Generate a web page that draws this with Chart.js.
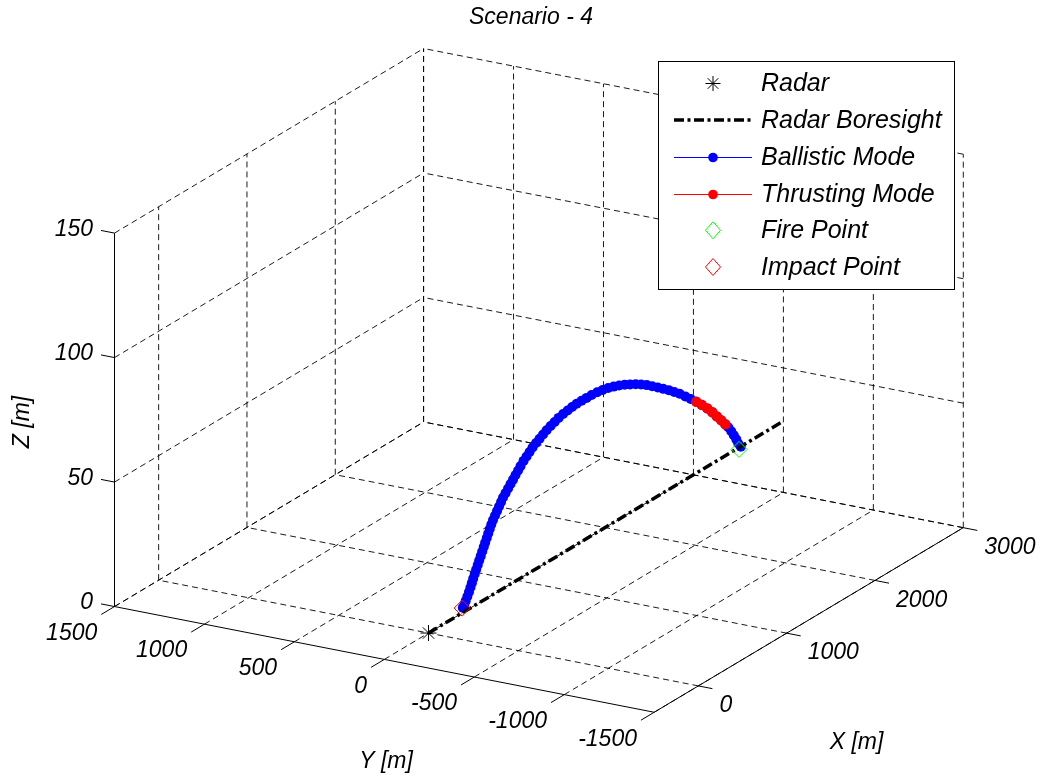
<!DOCTYPE html>
<html><head><meta charset="utf-8">
<script src="https://cdn.jsdelivr.net/npm/chart.js@4.4.1/dist/chart.umd.min.js"></script>
<style>html,body{margin:0;padding:0;background:#fff;}#wrap{width:1046px;height:780px;position:relative;}</style>
</head><body><div id="wrap"><canvas id="c" width="1046" height="780"></canvas></div>
<script>
// ---------- texts ----------
const chartTitle = 'Scenario - 4';
const xAxisLabel = 'X [m]';
const yAxisLabel = 'Y [m]';
const zAxisLabel = 'Z [m]';
const legendLabels = ['Radar', 'Radar Boresight', 'Ballistic Mode', 'Thrusting Mode', 'Fire Point', 'Impact Point'];

// ---------- axes ----------
const xLimits = [-500, 3000];
const yLimits = [-1500, 1500];
const zLimits = [0, 150];
const xTicks = [0, 1000, 2000, 3000];
const yTicks = [-1500, -1000, -500, 0, 500, 1000, 1500];
const zTicks = [0, 50, 100, 150];
const viewAz = 60.2, viewEl = 20;
const boxAspect = [1, 1, 0.639];

// ---------- data (3D, metres) ----------
const radarPos = [0, 0, 0];
const boresightX = [0, 4000];
const boresightY = [0, 0];
const boresightZ = [0, 0];
const firePoint = [3490, -13, 0];
const impactPoint = [450, 34, 0];

const ballisticX = [3509,3481,3459,3432,3404,3371,3338,3294,3245,3196,3141,3080,3020,2959,2899,2838,2778,2718,2657,2597,
  2536,2476,2415,2355,2294,2234,2174,2113,2053,1992,1932,1871,1816,1761,1707,1657,1608,1558,1509,1465,
  1421,1377,1338,1300,1261,1223,1190,1157,1124,1091,1064,1036,1009,981,954,926,899,877,855,833,
  811,789,770,753,736,720,703,687,670,654,637,621,604,588,571,556,541,525,507,488,472,457];
const ballisticY = [-13.3,-12.9,-12.5,-12.1,-11.7,-11.2,-10.7,-10.0,-9.2,-8.5,-7.6,-6.7,-5.7,-4.8,-3.9,-2.9,-2.0,-1.1,-0.1,0.8,
  1.7,2.7,3.6,4.5,5.5,6.4,7.3,8.3,9.2,10.1,11.0,12.0,12.8,13.7,14.5,15.3,16.1,16.8,17.6,18.3,
  18.9,19.6,20.2,20.8,21.4,22.0,22.5,23.0,23.5,24.0,24.4,24.9,25.3,25.7,26.1,26.6,27.0,27.3,27.7,28.0,
  28.3,28.7,29.0,29.2,29.5,29.8,30.0,30.3,30.5,30.8,31.0,31.3,31.5,31.8,32.0,32.3,32.5,32.8,33.0,33.3,33.6,33.8];
const ballisticZ = [0.7,2.6,4.7,6.9,9.1,11.4,13.3,15.8,18.4,21.1,23.8,26.5,29.0,31.4,33.7,36.0,38.0,40.0,41.8,43.6,
  45.4,47.1,48.6,50.0,51.2,52.3,53.3,54.1,54.8,55.3,55.6,55.8,55.8,55.8,55.7,55.5,55.1,54.7,54.2,53.5,
  52.8,52.0,51.1,50.2,49.3,48.3,47.2,46.1,45.0,43.6,42.4,41.2,39.9,38.7,37.5,36.2,35.0,33.7,32.3,31.0,
  29.6,28.3,26.9,25.4,24.0,22.5,21.0,19.6,18.1,16.6,15.2,13.7,12.3,10.8,9.3,7.8,6.4,4.9,3.5,2.0,0.6,0.0];

const thrustX = [3338,3294,3245,3196,3141,3080,3020];
const thrustY = [-10.7,-10.0,-9.2,-8.5,-7.6,-6.7,-5.7];
const thrustZ = [13.3,15.8,18.4,21.1,23.8,26.5,29.0];

// ---------- orthographic 3D view ----------
const AZ = viewAz * Math.PI / 180, EL = viewEl * Math.PI / 180;
function project(X, Y, Z) {
  const bx = ((X - xLimits[0]) / (xLimits[1] - xLimits[0]) - 0.5) * boxAspect[0];
  const by = ((Y - yLimits[0]) / (yLimits[1] - yLimits[0]) - 0.5) * boxAspect[1];
  const bz = ((Z - zLimits[0]) / (zLimits[1] - zLimits[0]) - 0.5) * boxAspect[2];
  return {
    x: Math.cos(AZ) * bx - Math.sin(AZ) * by,
    y: Math.sin(EL) * (Math.sin(AZ) * bx + Math.cos(AZ) * by) + Math.cos(EL) * bz
  };
}
let uMax = 0, vMax = 0;
for (const X of xLimits) for (const Y of yLimits) for (const Z of zLimits) {
  const p = project(X, Y, Z);
  uMax = Math.max(uMax, Math.abs(p.x)); vMax = Math.max(vMax, Math.abs(p.y));
}
const W = 1046, H = 780;
const areaLeft = 114.5, areaRight = 963.3, areaTop = 48.5;
const pxPerUnit = (areaRight - areaLeft) / (2 * uMax);
const areaBottom = areaTop + 2 * vMax * pxPerUnit;

const pts = (xs, ys, zs) => xs.map((x, i) => project(x, ys[i], zs[i]));

const FONT = '"Liberation Sans", Arial, Helvetica, sans-serif';

const axesPlugin = {
  id: 'axes3d',
  beforeDatasetsDraw(chart) {
    const ctx = chart.ctx, sx = chart.scales.x, sy = chart.scales.y;
    const P = (X, Y, Z) => { const p = project(X, Y, Z); return [sx.getPixelForValue(p.x), sy.getPixelForValue(p.y)]; };
    const line = (a, b) => { ctx.beginPath(); ctx.moveTo(a[0], a[1]); ctx.lineTo(b[0], b[1]); ctx.stroke(); };
    const [x0, x1] = xLimits, [y0, y1] = yLimits, [z0, z1] = zLimits;
    ctx.save();
    // grid (dashed) on the three back planes
    ctx.strokeStyle = '#000'; ctx.lineWidth = 0.9; ctx.setLineDash([6, 4]);
    for (const xt of xTicks) { line(P(xt, y0, z0), P(xt, y1, z0)); line(P(xt, y1, z0), P(xt, y1, z1)); }
    for (const yt of yTicks) { line(P(x0, yt, z0), P(x1, yt, z0)); line(P(x1, yt, z0), P(x1, yt, z1)); }
    for (const zt of zTicks) { line(P(x0, y1, zt), P(x1, y1, zt)); line(P(x1, y0, zt), P(x1, y1, zt)); }
    // axis lines (solid)
    ctx.setLineDash([]); ctx.strokeStyle = '#000'; ctx.lineWidth = 1;
    line(P(x0, y1, z0), P(x0, y1, z1));
    line(P(x0, y1, z0), P(x0, y0, z0));
    line(P(x0, y0, z0), P(x1, y0, z0));
    // ticks + labels
    ctx.fillStyle = '#000'; ctx.font = 'italic 23px ' + FONT;
    const zTickLen = 75, xTickLen = 78, yTickLen = 150;
    for (const zt of zTicks) {
      const a = P(x0, y1, zt), b = P(x0, y1 + zTickLen, zt); line(a, b);
      ctx.textAlign = 'right'; ctx.textBaseline = 'middle';
      ctx.fillText(String(zt), b[0] - 8, b[1] - 1);
    }
    for (const xt of xTicks) {
      const a = P(xt, y0, z0), b = P(xt, y0 - xTickLen, z0); line(a, b);
      ctx.textAlign = 'left'; ctx.textBaseline = 'middle';
      ctx.fillText(String(xt), b[0] + 7, b[1] + 17);
    }
    for (const yt of yTicks) {
      const a = P(x0, yt, z0), b = P(x0 - yTickLen, yt, z0); line(a, b);
      ctx.textAlign = 'right'; ctx.textBaseline = 'middle';
      ctx.fillText(String(yt), b[0] - 4, b[1] + 19);
    }
    // axis titles
    ctx.textAlign = 'center'; ctx.textBaseline = 'middle';
    ctx.fillText(xAxisLabel, 856.5, 743);
    ctx.fillText(yAxisLabel, 386, 762);
    ctx.save(); ctx.translate(23, 422); ctx.rotate(-Math.PI / 2); ctx.fillText(zAxisLabel, 0, 0); ctx.restore();
    // title
    ctx.fillText(chartTitle, 531, 18);
    ctx.restore();
  },
  afterDraw(chart) {
    const ctx = chart.ctx;
    ctx.save();
    const bx = 658.5, by = 61.5, bw = 296, bh = 228;
    ctx.fillStyle = '#fff'; ctx.fillRect(bx, by, bw, bh);
    ctx.strokeStyle = '#000'; ctx.lineWidth = 1; ctx.setLineDash([]); ctx.strokeRect(bx, by, bw, bh);
    const rowY = i => 83.5 + i * 36.7;
    const l0 = 674, l1 = 752, mx = 713;
    // Radar star
    let y = rowY(0);
    ctx.strokeStyle = '#000'; ctx.lineWidth = 1;
    for (let k = 0; k < 4; k++) {
      const ang = k * Math.PI / 4, r = 7.5;
      ctx.beginPath(); ctx.moveTo(mx - r * Math.cos(ang), y - r * Math.sin(ang)); ctx.lineTo(mx + r * Math.cos(ang), y + r * Math.sin(ang)); ctx.stroke();
    }
    // boresight
    y = Math.round(rowY(1));
    ctx.lineWidth = 3.5; ctx.setLineDash([10, 3.5, 3, 3.5]);
    ctx.beginPath(); ctx.moveTo(l0, y); ctx.lineTo(l1, y); ctx.stroke();
    ctx.setLineDash([]);
    // ballistic / thrusting
    [['#0000ff', 2], ['#ff0000', 3]].forEach(([col, i]) => {
      const yy = Math.round(rowY(i)) + 0.5;
      ctx.strokeStyle = col; ctx.lineWidth = 1;
      ctx.beginPath(); ctx.moveTo(l0, yy); ctx.lineTo(l1, yy); ctx.stroke();
      ctx.fillStyle = col; ctx.beginPath(); ctx.arc(mx, yy, 4.8, 0, 2 * Math.PI); ctx.fill();
    });
    // diamonds
    [['#00ff00', 4], ['#ff0000', 5]].forEach(([col, i]) => {
      const yy = rowY(i);
      ctx.strokeStyle = col; ctx.lineWidth = 1;
      ctx.beginPath(); ctx.moveTo(mx, yy - 8.5); ctx.lineTo(mx + 7.5, yy); ctx.lineTo(mx, yy + 8.5); ctx.lineTo(mx - 7.5, yy); ctx.closePath(); ctx.stroke();
    });
    ctx.fillStyle = '#000'; ctx.font = 'italic 25px ' + FONT; ctx.textAlign = 'left'; ctx.textBaseline = 'middle';
    legendLabels.forEach((t, i) => ctx.fillText(t, 761, rowY(i) + 1));
    ctx.restore();
  }
};

new Chart(document.getElementById('c'), {
  type: 'scatter',
  data: {
    datasets: [
      { label: legendLabels[0], data: [project(...radarPos)], pointStyle: 'star', pointRadius: 8, borderColor: '#000', borderWidth: 1, order: 0 },
      { label: legendLabels[1], data: pts(boresightX, boresightY, boresightZ), showLine: true, pointRadius: 0, borderColor: '#000', borderWidth: 3.5, borderDash: [10, 3.5, 3, 3.5], order: 3 },
      { label: legendLabels[2], data: pts(ballisticX, ballisticY, ballisticZ), showLine: true, borderColor: '#0000ff', borderWidth: 1, pointRadius: 5, pointBackgroundColor: '#0000ff', pointBorderColor: '#0000ff', pointBorderWidth: 0, order: 5 },
      { label: legendLabels[3], data: pts(thrustX, thrustY, thrustZ), showLine: true, borderColor: '#ff0000', borderWidth: 1, pointRadius: 5.2, pointBackgroundColor: '#ff0000', pointBorderColor: '#ff0000', pointBorderWidth: 0, order: 4 },
      { label: legendLabels[4], data: [project(...firePoint)], pointStyle: 'rectRot', pointRadius: 8, pointBackgroundColor: 'rgba(0,0,0,0)', pointBorderColor: '#00ff00', pointBorderWidth: 1, order: 2 },
      { label: legendLabels[5], data: [project(...impactPoint)], pointStyle: 'rectRot', pointRadius: 8, pointBackgroundColor: 'rgba(0,0,0,0)', pointBorderColor: '#ff0000', pointBorderWidth: 1, order: 1 }
    ]
  },
  options: {
    responsive: false, animation: false, devicePixelRatio: 1,
    layout: { padding: { left: areaLeft, right: W - areaRight, top: areaTop, bottom: H - areaBottom } },
    scales: {
      x: { type: 'linear', min: -uMax, max: uMax, display: false },
      y: { type: 'linear', min: -vMax, max: vMax, display: false }
    },
    plugins: { legend: { display: false }, tooltip: { enabled: false }, title: { display: false } },
    elements: { line: { tension: 0 } },
    clip: false
  },
  plugins: [axesPlugin]
});
</script>
</body></html>
